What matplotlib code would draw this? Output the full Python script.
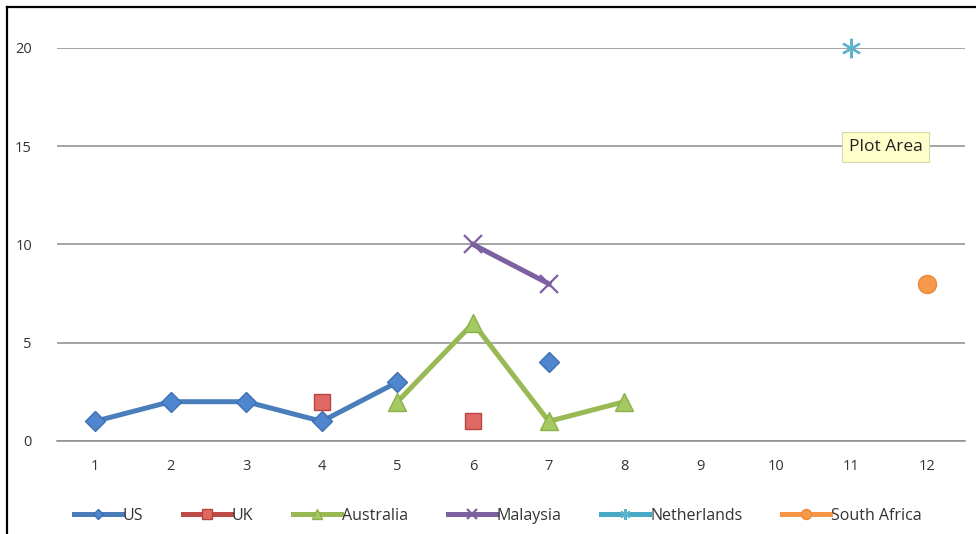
import matplotlib.pyplot as plt
import numpy as np
from matplotlib.lines import Line2D

nan = np.nan
categorias = [1, 2, 3, 4, 5, 6, 7, 8, 9, 10, 11, 12]
us = [1, 2, 2, 1, 3, nan, 4, nan, nan, nan, nan, nan]
uk = [nan, nan, nan, 2, nan, 1, nan, nan, nan, nan, nan, nan]
australia = [nan, nan, nan, nan, 2, 6, 1, 2, nan, nan, nan, nan]
malaysia = [nan, nan, nan, nan, nan, 10, 8, nan, nan, nan, nan, nan]
netherlands = [nan, nan, nan, nan, nan, nan, nan, nan, nan, nan, 20, nan]
south_africa = [nan, nan, nan, nan, nan, nan, nan, nan, nan, nan, nan, 8]
y_ticks = [0, 5, 10, 15, 20]

plt.rcParams['font.family'] = ['Open Sans', 'DejaVu Sans']

fig = plt.figure(figsize=(9.76, 5.34), dpi=100)
ax = fig.add_axes([57 / 976, 1 - 441 / 534, (965 - 57) / 976, (441 - 48) / 534])

lw = 3.6
ax.plot(categorias, us, color='#4A7EBB', lw=lw, marker='D', ms=10, mfc='#4F86CF', mec='#3F70B0', label='US', zorder=3, clip_on=False)
ax.plot(categorias, uk, color='#BE4B48', lw=lw, marker='s', ms=12, mfc='#E06966', mec='#B84440', label='UK', zorder=3, clip_on=False)
ax.plot(categorias, australia, color='#98B954', lw=lw, marker='^', ms=13, mfc='#A4C962', mec='#8DB04A', label='Australia', zorder=3, clip_on=False)
ax.plot(categorias, malaysia, color='#7D60A0', lw=lw, marker='x', ms=13, mew=1.6, mec='#7D60A0', label='Malaysia', zorder=3, clip_on=False)
ax.plot(categorias, netherlands, color='#46AAC5', lw=lw, marker=(6, 2, 0), ms=14, mew=1.6, mec='#5AB4CC', label='Netherlands', zorder=3, clip_on=False)
ax.plot(categorias, south_africa, color='#F79646', lw=lw, marker='o', ms=13, mfc='#F7994A', mec='#E88838', label='South Africa', zorder=3, clip_on=False)

ax.set_xlim(0.5, 12.5)
ax.set_ylim(0, 20)
ax.set_xticks(categorias)
ax.set_yticks(y_ticks)
ax.yaxis.grid(True, color='#8C8C8C', lw=1.1)
ax.set_axisbelow(True)
for s in ['left', 'right', 'top']:
    ax.spines[s].set_visible(False)
ax.spines['bottom'].set_color('#8C8C8C')
ax.spines['bottom'].set_linewidth(1.1)
ax.tick_params(axis='both', length=0, labelsize=10.5, colors='#333333')
ax.tick_params(axis='x', pad=13)
ax.tick_params(axis='y', pad=18)

ax.text(11.45, 14.95, 'Plot Area', fontsize=12.5, color='#222222', ha='center', va='center',
        bbox=dict(boxstyle='square,pad=0.4', fc='#FFFFCC', ec='#D8D8B0', lw=0.8), zorder=5)

fig.legend(loc='center', bbox_to_anchor=(0.510, 1 - 516 / 534), ncol=6, frameon=False,
           fontsize=11.5, handlelength=3.0, handletextpad=0.05, columnspacing=2.5,
           markerscale=0.55, labelcolor='#333333')

fig.add_artist(Line2D([7 / 976, 7 / 976], [0, 1 - 7 / 534], color='black', lw=1.6))
fig.add_artist(Line2D([7 / 976, 1], [1 - 7 / 534, 1 - 7 / 534], color='black', lw=1.6))

fig.savefig('out.png', dpi=100)
